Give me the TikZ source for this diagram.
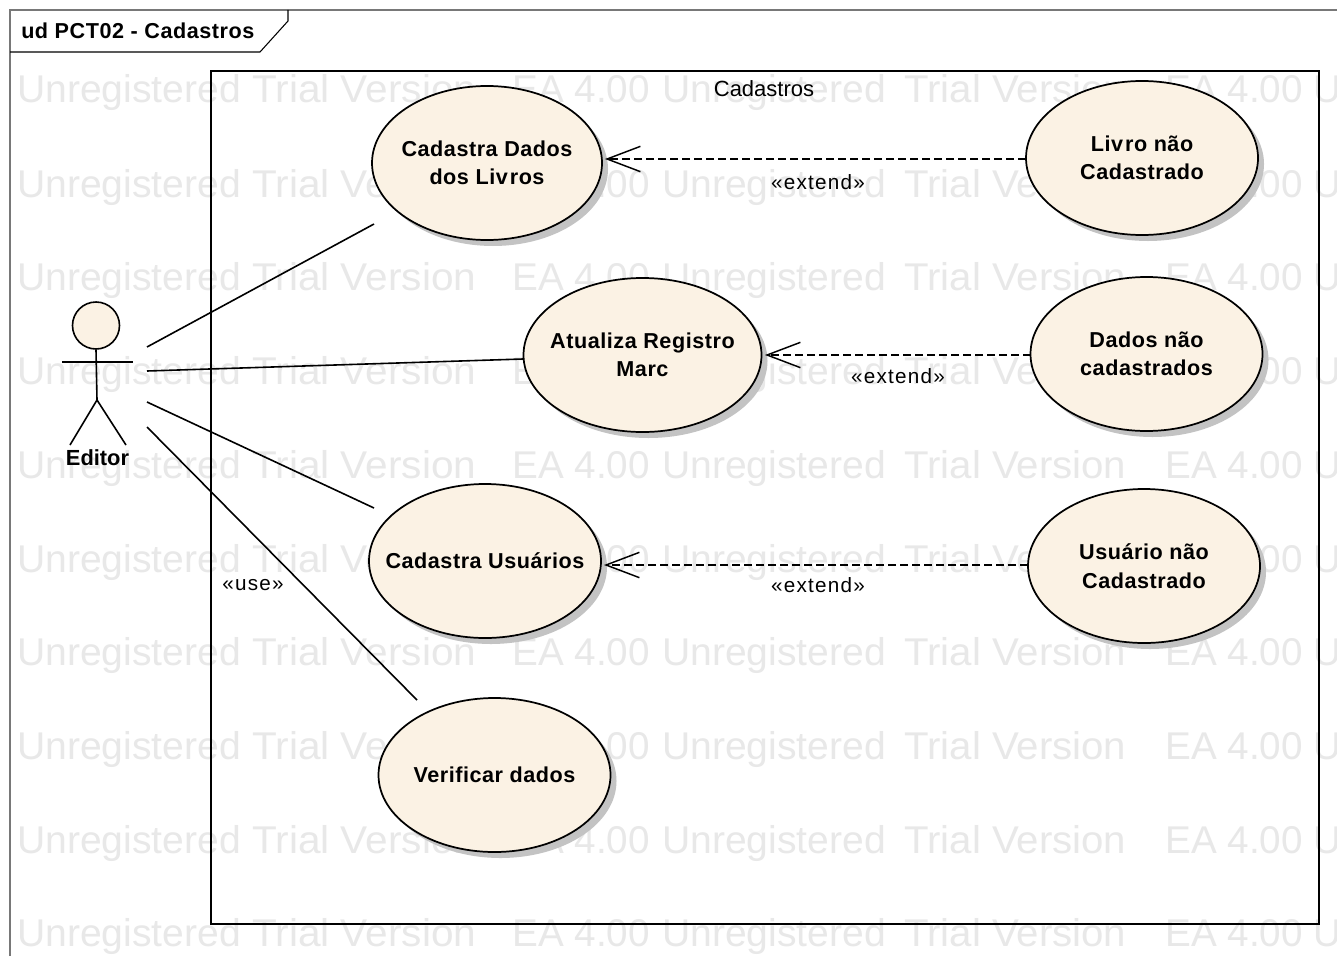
\documentclass[tikz,border=0pt]{standalone}
\usepackage{graphicx}
\usepackage{fontspec}
\setmainfont{Liberation Sans}
\newfontfamily\spfont[LetterSpace=2.5]{Liberation Sans}
\newfontfamily\lblfont[LetterSpace=6]{Liberation Sans}
\usetikzlibrary{arrows.meta,shapes.geometric}
\definecolor{ucfill}{RGB}{251,242,228}
\definecolor{wm}{RGB}{232,232,232}
\definecolor{shadowc}{RGB}{195,195,195}
\definecolor{framec}{RGB}{120,120,120}
\newcommand{\wmrow}[1]{%
 \node[wmark] at (17,#1) {\scalebox{1.01}[1]{Unregistered}};
 \node[wmark] at (252,#1) {\scalebox{1.05}[1]{Trial Version}};
 \node[wmark] at (512,#1) {EA 4.00};
 \node[wmark] at (662,#1) {\scalebox{1.01}[1]{Unregistered}};
 \node[wmark] at (904,#1) {\scalebox{1.04}[1]{Trial Version}};
 \node[wmark] at (1165,#1) {EA 4.00};
 \node[wmark] at (1313,#1) {U};
}
\tikzset{
 x=0.75pt,y=-0.75pt,
 wmark/.style={anchor=base west,text=wm,font=\fontsize{29pt}{30pt}\selectfont,inner sep=0pt},
 uc/.style={ellipse,draw=black,line width=1.3pt,fill=ucfill,inner sep=0pt},
 uctext/.style={inner sep=0pt,align=center,font=\spfont\bfseries\fontsize{16.2pt}{21.4pt}\selectfont},
 assoc/.style={draw=black,line width=1.2pt},
 ext/.style={draw=black,line width=1.4pt,dash pattern=on 6pt off 3pt,-{Straight Barb[length=25pt,width=19pt,line width=1.1pt]}},
 lbl/.style={font=\lblfont\fontsize{15.5pt}{18pt}\selectfont,inner sep=0pt},
}
\newcommand{\ucase}[6]{% name, cx, cy, rx, ry, text
 \fill[shadowc] (#2+6,#3+6) ellipse [x radius=#4,y radius=#5];
 \node[uc,minimum width=#4*1.5pt,minimum height=#5*1.5pt,label={[uctext]center:{#6}}] (#1) at (#2,#3) {};
}
\begin{document}
\begin{tikzpicture}
\useasboundingbox (0,0) rectangle (1337,956);
\fill[white] (0,0) rectangle (1337,956);
\begin{scope}
\clip (10,52) rectangle (1337,956);
\wmrow{103}\wmrow{197}\wmrow{290}\wmrow{384}\wmrow{478}\wmrow{572}\wmrow{665}\wmrow{759}\wmrow{853}\wmrow{946}
\end{scope}
% frame
\draw[framec,line width=1pt] (10,956) -- (10,10) -- (1337,10);
\draw[black,line width=0.8pt] (10,52) -- (260,52) -- (288,21) -- (288,10);
\node[anchor=west,inner sep=0pt,font=\spfont\bfseries\fontsize{16.2pt}{20pt}\selectfont] (title) at (21,31) {ud PCT02 - Cadastros};
% boundary
\node[draw=black,line width=1.5pt,anchor=north west,minimum width=1108*0.75pt,minimum height=853*0.75pt,inner sep=0pt] (boundary) at (210,70) {};
\node[inner sep=0pt,font=\fontsize{16.5pt}{18pt}\selectfont] (boundarytitle) at (764,89) {Cadastros};
% use cases
\ucase{u1}{487}{163}{115}{77}{Cadastra Dados\\dos Liv\kern1.5pt ros}
\ucase{u2}{642.5}{355}{119}{77}{Atualiza Registro\\Marc}
\ucase{u3}{485}{561}{116}{77}{Cadastra Usuários}
\ucase{u4}{494.5}{775}{116}{77}{Verificar dados}
\ucase{e1}{1142}{158}{116}{77}{Liv\kern1.5pt ro não\\Cadastrado}
\ucase{e2}{1146.5}{354}{116}{77}{Dados não\\cadastrados}
\ucase{e3}{1144}{566}{116}{77}{Usuário não\\Cadastrado}
% actor
\node[circle,draw=black,line width=1.2pt,fill=ucfill,minimum size=47*0.75pt,inner sep=0pt] (head) at (96,325.5) {};
\coordinate (hip) at (97,400);
\coordinate (armL) at (62,362);
\coordinate (armR) at (133,362);
\coordinate (legL) at (70,445);
\coordinate (legR) at (126,445);
\draw[assoc] (head.south) -- (hip);
\draw[assoc] (armL) -- (armR);
\draw[assoc] (legL) -- (hip) -- (legR);
\node[inner sep=0pt,font=\bfseries\fontsize{16.4pt}{20pt}\selectfont] (editor) at (97.5,458) {Editor};
% associations
\coordinate (a1) at (147,347); \coordinate (b1) at (374,224);
\coordinate (a2) at (147,371); \coordinate (b2) at (523,359);
\coordinate (a3) at (147,402); \coordinate (b3) at (374,508);
\coordinate (a4) at (147,427); \coordinate (b4) at (417,700);
\draw[assoc] (a1) -- (b1);
\draw[assoc] (a2) -- (b2);
\draw[assoc] (a3) -- (b3);
\draw[assoc] (a4) -- (b4);
\node[lbl] (uselbl) at (253,585) {«use»};
% extends
\coordinate (t1) at (605,159);
\coordinate (t2) at (765,355);
\coordinate (t3) at (604,565);
\coordinate (s1) at (1026,159);
\coordinate (s2) at (1031,355);
\coordinate (s3) at (1028,565);
\draw[ext] (s1) -- (t1);
\draw[ext] (s2) -- (t2);
\draw[ext] (s3) -- (t3);
\node[lbl] (x1) at (818,182) {«extend»};
\node[lbl] (x2) at (898,376) {«extend»};
\node[lbl] (x3) at (818,585) {«extend»};
\end{tikzpicture}
\end{document}
